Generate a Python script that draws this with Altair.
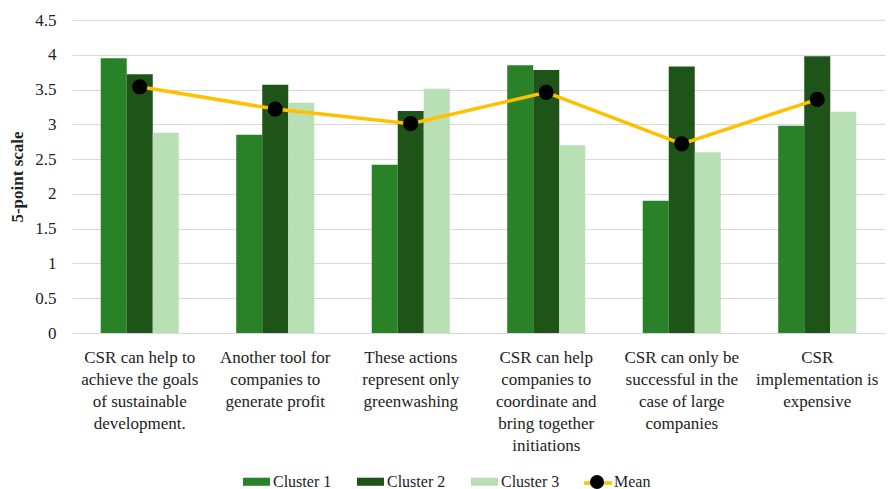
import altair as alt
import pandas as pd

# Survey statements (line breaks give the wrapped axis labels)
categories = [
    "CSR can help to\nachieve the goals\nof sustainable\ndevelopment.",
    "Another tool for\ncompanies to\ngenerate profit",
    "These actions\nrepresent only\ngreenwashing",
    "CSR can help\ncompanies to\ncoordinate and\nbring together\ninitiations",
    "CSR can only be\nsuccessful in the\ncase of large\ncompanies",
    "CSR\nimplementation is\nexpensive",
]

cluster_1 = [3.95, 2.85, 2.42, 3.85, 1.90, 2.98]
cluster_2 = [3.72, 3.57, 3.19, 3.78, 3.83, 3.98]
cluster_3 = [2.88, 3.31, 3.51, 2.70, 2.60, 3.18]
mean = [3.54, 3.22, 3.01, 3.46, 2.72, 3.36]

series_names = ["Cluster 1", "Cluster 2", "Cluster 3"]
bar_colors = ["#2a8228", "#1f5418", "#b9dfb5"]
mean_color = "#ffc000"
y_ticks = [0, 0.5, 1, 1.5, 2, 2.5, 3, 3.5, 4, 4.5]

FONT = "Liberation Serif"
TEXT = "#222222"
GRID = "#d9d9d9"

rows = []
for name, vals in zip(series_names, [cluster_1, cluster_2, cluster_3]):
    for cat, v in zip(categories, vals):
        rows.append({"category": cat, "series": name, "value": v})
bars_df = pd.DataFrame(rows)

mean_df = pd.DataFrame({
    "category": categories,
    "value": mean,
    "line_key": ["Mean"] * len(categories),
    "dot_key": ["Mean"] * len(categories),
})

x_enc = alt.X(
    "category:N",
    sort=categories,
    scale=alt.Scale(paddingInner=0.424, paddingOuter=0.212),
    axis=alt.Axis(
        title=None,
        labelAngle=0,
        labelExpr="split(datum.label, '\\n')",
        labelLineHeight=22,
        labelPadding=16,
        labelFont=FONT,
        labelFontSize=17,
        labelColor=TEXT,
        labelLimit=200,
        ticks=False,
        domain=True,
        domainColor=GRID,
        grid=False,
    ),
)

y_enc = alt.Y(
    "value:Q",
    scale=alt.Scale(domain=[0, 4.5], nice=False),
    axis=alt.Axis(
        title="5-point scale",
        values=y_ticks,
        format="~g",
        labelFont=FONT,
        labelFontSize=17,
        labelColor=TEXT,
        labelPadding=16,
        titleFont=FONT,
        titleFontSize=17,
        titleFontWeight="bold",
        titleColor=TEXT,
        titlePadding=8,
        ticks=False,
        domain=False,
        grid=True,
        gridColor=GRID,
        gridWidth=1,
    ),
)

legend_common = dict(
    orient="none",
    direction="horizontal",
    title=None,
    labelFont=FONT,
    labelFontSize=16,
    labelColor=TEXT,
)

bars = alt.Chart(bars_df).mark_bar().encode(
    x=x_enc,
    y=y_enc,
    xOffset=alt.XOffset("series:N", sort=series_names,
                        scale=alt.Scale(paddingInner=0, paddingOuter=0)),
    color=alt.Color(
        "series:N",
        scale=alt.Scale(domain=series_names, range=bar_colors),
        legend=alt.Legend(
            **legend_common,
            legendX=171,
            legendY=448,
            symbolType="M-1,-0.3H1V0.3H-1Z",
            symbolSize=729,
            symbolStrokeWidth=0,
            labelOffset=3,
            columnPadding=25,
        ),
    ),
)

# Line part of the "Mean" legend entry (its label comes from the dot legend)
line = alt.Chart(mean_df).mark_line(strokeWidth=3.5).encode(
    x=x_enc,
    y=y_enc,
    stroke=alt.Stroke(
        "line_key:N",
        scale=alt.Scale(range=[mean_color]),
        legend=alt.Legend(
            **legend_common,
            legendX=517,
            legendY=454,
            symbolType="M-2,0H2",
            symbolSize=196,
            symbolStrokeWidth=3.5,
            labelOffset=9,
            labelExpr="''",
        ),
    ),
)

dots = alt.Chart(mean_df).mark_point(filled=True, opacity=1, shape="circle", size=230).encode(
    x=x_enc,
    y=y_enc,
    fill=alt.Fill(
        "dot_key:N",
        scale=alt.Scale(range=["#000000"]),
        legend=alt.Legend(
            **legend_common,
            legendX=517,
            legendY=454,
            symbolType="circle",
            symbolSize=196,
            symbolStrokeWidth=0,
            symbolOpacity=1,
            labelOffset=9,
        ),
    ),
)

chart = (
    alt.layer(bars, line, dots)
    .properties(
        width=813,
        height=313,
        autosize=alt.AutoSizeParams(type="none"),
        padding={"left": 72, "top": 20, "right": 4, "bottom": 156},
        background="white",
    )
    .configure_view(strokeWidth=0)
)

chart.save("out.html", embed_options={"renderer": "svg", "actions": False})
